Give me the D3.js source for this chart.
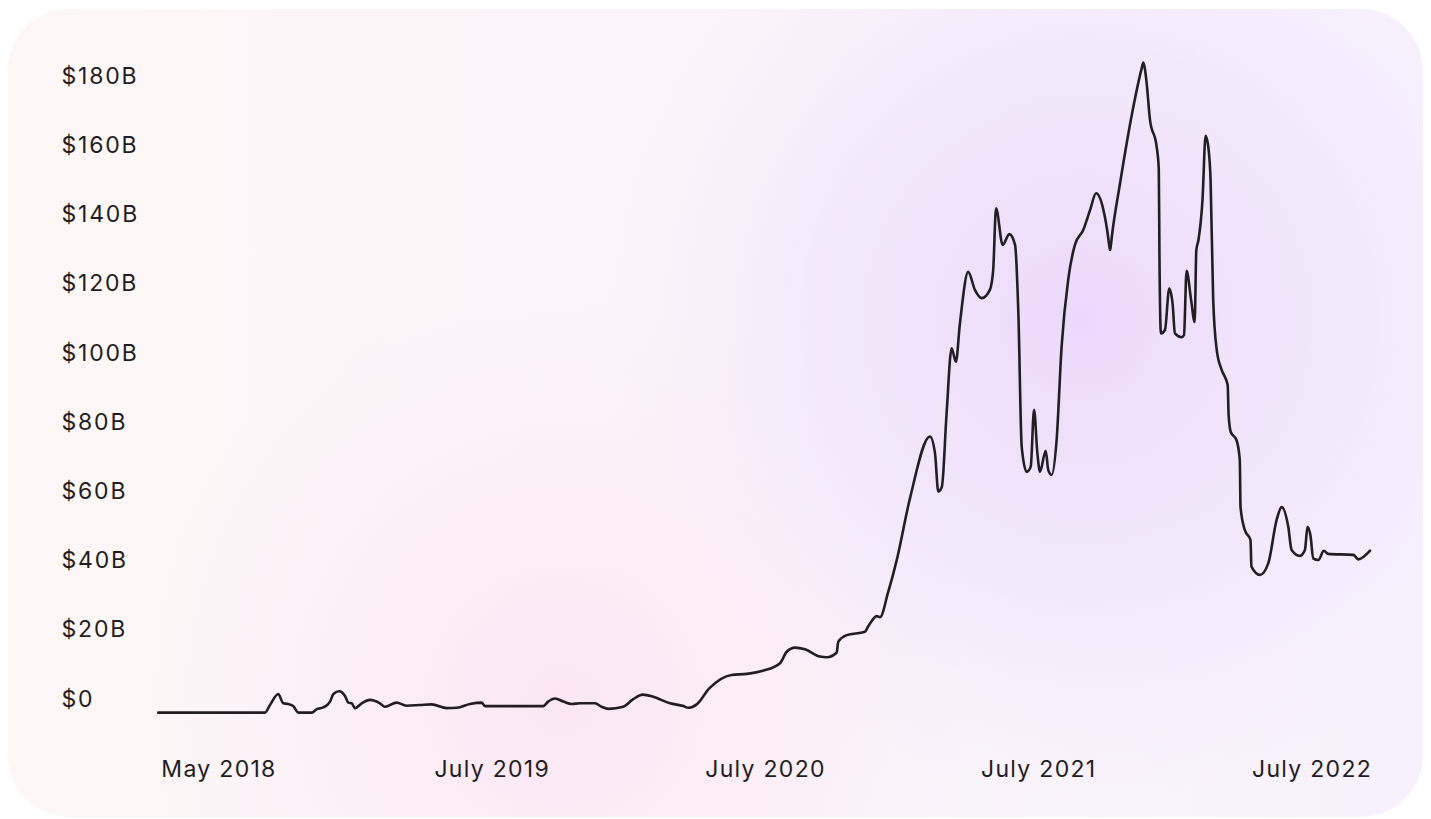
<!DOCTYPE html>
<html>
<head>
<meta charset="utf-8">
<script src="https://cdn.jsdelivr.net/npm/d3@7"></script>
<style>
html,body{margin:0;padding:0;background:#ffffff;}
svg{display:block;}
</style>
</head>
<body>
<svg id="chart" width="1431" height="819"></svg>
<script>
// months since May 2018
const months = [0,4.49,4.70,5.05,5.26,5.47,5.68,5.89,6.46,6.67,6.94,7.23,7.37,7.62,7.86,8.00,8.14,8.28,8.56,8.91,9.33,9.54,10.03,10.45,11.01,11.51,12.14,12.56,13.12,13.61,13.75,16.20,16.41,16.70,17.05,17.40,17.75,18.38,18.66,18.94,19.57,19.99,20.39,20.83,21.54,22.10,22.31,22.66,23.19,24.13,24.77,25.45,26.17,26.45,26.80,27.22,27.85,28.13,28.55,28.62,28.97,29.74,29.87,30.24,30.38,30.71,31.08,31.64,32.48,32.69,32.83,32.98,33.18,33.39,33.57,33.74,34.09,34.37,34.66,35.00,35.14,35.26,35.54,35.82,36.06,36.20,36.34,36.55,36.72,36.86,37.00,37.11,37.35,37.46,37.60,37.81,38.02,38.30,38.58,38.93,39.22,39.47,39.78,39.98,40.03,40.06,40.09,40.14,40.48,41.04,41.38,41.46,41.53,41.60,41.74,42.02,42.11,42.14,42.20,42.37,42.55,42.69,42.79,43.07,43.17,43.28,43.47,43.62,43.69,43.78,43.95,44.08,44.21,44.29,44.40,44.55,44.76,45.01,45.05,45.14,45.38,45.52,45.55,45.73,45.97,46.01,46.37,46.72,47.07,47.28,47.56,47.70,48.05,48.26,48.37,48.50,48.61,48.82,49.06,49.24,50.30,50.51,51.0];
// value, billions USD
const values = [0.1,0.1,2.3,5.5,2.8,2.6,2.0,0.1,0.1,1.1,1.6,3.3,5.5,6.3,4.9,3.0,2.8,1.4,2.8,3.8,2.8,1.8,3.0,2.1,2.3,2.5,1.4,1.5,2.6,3.0,2.0,2.0,3.3,4.2,3.3,2.6,2.8,2.8,1.8,1.2,1.8,4.0,5.3,4.7,2.8,2.0,1.5,2.5,7.1,11.0,11.3,12.2,14.4,17.7,18.9,18.4,16.3,16.1,17.4,20.6,22.5,23.5,24.9,28.0,27.7,34.7,44.2,62.1,79.9,75.1,64.0,65.4,86.7,105.4,101.5,112.6,127.5,122.3,119.9,122.3,128.0,145.9,135.3,138.4,135.3,115.5,77.0,69.7,71.2,87.6,75.1,69.7,75.8,70.2,68.8,78.9,105.9,125.4,135.3,139.6,145.4,150.2,145.4,137.5,134.8,133.8,135.0,138.0,153.1,175.2,186.0,188.0,186.0,182.0,171.4,163.7,157.2,130.9,109.7,110.7,122.7,118.4,109.7,108.6,109.2,127.8,119.4,113.0,133.8,136.7,148.3,166.8,162.7,154.0,119.4,104.9,99.1,94.8,86.1,81.2,78.9,73.1,59.6,52.9,50.0,42.3,39.9,43.3,55.8,59.5,53.8,47.1,45.4,47.1,53.8,51.0,44.7,44.2,46.9,46.0,45.7,44.4,46.9];
const yTicks = [0,20,40,60,80,100,120,140,160,180];
const xLabels = ["May 2018","July 2019","July 2020","July 2021","July 2022"];

const svg = d3.select("#chart");
const defs = svg.append("defs");

// background gradients
const lin = defs.append("linearGradient").attr("id","bgLin").attr("x1","0").attr("y1","0").attr("x2","1").attr("y2","0");
lin.append("stop").attr("offset","0").attr("stop-color","#fdf7f7");
lin.append("stop").attr("offset","0.5").attr("stop-color","#fcf5fa");
lin.append("stop").attr("offset","1").attr("stop-color","#f7f1fd");

const rp = defs.append("radialGradient").attr("id","bgPurple").attr("gradientUnits","userSpaceOnUse")
  .attr("cx",1080).attr("cy",320).attr("r",480);
rp.append("stop").attr("offset","0").attr("stop-color","#ebd9fb").attr("stop-opacity",1);
rp.append("stop").attr("offset","0.55").attr("stop-color","#efe1fa").attr("stop-opacity",0.6);
rp.append("stop").attr("offset","1").attr("stop-color","#f3e8fb").attr("stop-opacity",0);

const rk = defs.append("radialGradient").attr("id","bgPink").attr("gradientUnits","userSpaceOnUse")
  .attr("cx",560).attr("cy",700).attr("r",420);
rk.append("stop").attr("offset","0").attr("stop-color","#fbe5f4").attr("stop-opacity",0.9);
rk.append("stop").attr("offset","1").attr("stop-color","#fbe9f3").attr("stop-opacity",0);

const card = {x:7.5, y:9, w:1415.5, h:808, r:62};
["url(#bgLin)","url(#bgPink)","url(#bgPurple)"].forEach(f => {
  svg.append("rect").attr("x",card.x).attr("y",card.y).attr("width",card.w).attr("height",card.h)
    .attr("rx",card.r).attr("ry",card.r).attr("fill",f);
});

// scales
const x = d3.scaleLinear().domain([0,51]).range([158.3,1370]);
const y = d3.scaleLinear().domain([0,180]).range([713,90.2]);
const xl = d3.scalePoint().domain(xLabels).range([218.5,1311.5]);

const font = "Inter, Roboto, 'Noto Sans', sans-serif";

// y axis
const yAxis = svg.append("g").attr("transform","translate(61.5,0)")
  .call(d3.axisLeft(y).tickValues(yTicks).tickSize(0).tickFormat(d => "$" + d + (d === 0 ? "" : "B")));
yAxis.select(".domain").remove();
yAxis.selectAll("text")
  .attr("x",0).attr("dy",null).attr("y",-7)
  .attr("text-anchor","start")
  .attr("fill","#1f1d22")
  .style("font-family",font).style("font-size","23px").style("letter-spacing","1.8px");

// x axis
const xAxis = svg.append("g").attr("transform","translate(0,777)")
  .call(d3.axisBottom(xl).tickSize(0));
xAxis.select(".domain").remove();
xAxis.selectAll("text")
  .attr("y",0).attr("dy",null)
  .attr("text-anchor","middle")
  .attr("fill","#1f1d22")
  .style("font-family",font).style("font-size","23px").style("letter-spacing","1.3px");

// line
const data = months.map((m,i) => ({m, v: values[i]}));
const line = d3.line().x(d => x(d.m)).y(d => y(d.v)).curve(d3.curveMonotoneX);
svg.append("path").datum(data)
  .attr("d",line)
  .attr("fill","none")
  .attr("stroke","#221e22")
  .attr("stroke-width",2.6)
  .attr("stroke-linejoin","round")
  .attr("stroke-linecap","round");
</script>
</body>
</html>
